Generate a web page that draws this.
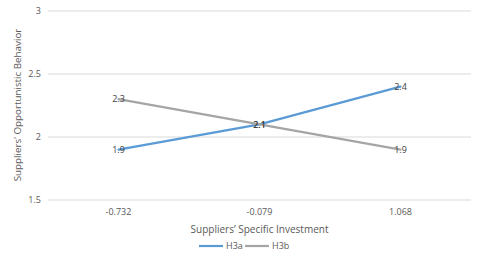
<!DOCTYPE html>
<html>
<head>
<meta charset="utf-8">
<script src="https://cdn.jsdelivr.net/npm/d3@7"></script>
<style>
  body { margin: 0; background: #fff; }
  text { font-family: "Open Sans", "Liberation Sans", sans-serif; }
</style>
</head>
<body>
<div id="chart"></div>
<script>
const categories = ["-0.732", "-0.079", "1.068"];
const h3a = [1.9, 2.1, 2.4];
const h3b = [2.3, 2.1, 1.9];
const yTicks = [1.5, 2, 2.5, 3];

const width = 480;
const height = 262;
const margin = { top: 11, right: 9, bottom: 62, left: 48 };

const series = [
  { name: "H3a", values: h3a, color: "#5b9bd5" },
  { name: "H3b", values: h3b, color: "#a5a5a5" },
];

const svg = d3
  .select("#chart")
  .append("svg")
  .attr("width", width)
  .attr("height", height);

const x = d3
  .scaleBand()
  .domain(categories)
  .range([margin.left, width - margin.right]);

const y = d3
  .scaleLinear()
  .domain([1.5, 3])
  .range([height - margin.bottom, margin.top]);

// gridlines
svg
  .append("g")
  .selectAll("line")
  .data(yTicks)
  .join("line")
  .attr("x1", margin.left)
  .attr("x2", width - margin.right)
  .attr("y1", (d) => y(d))
  .attr("y2", (d) => y(d))
  .attr("stroke", "#d9d9d9")
  .attr("stroke-width", 1);

// y tick labels
svg
  .append("g")
  .selectAll("text")
  .data(yTicks)
  .join("text")
  .attr("x", margin.left - 7)
  .attr("y", (d) => y(d))
  .attr("dy", "0.35em")
  .attr("text-anchor", "end")
  .attr("fill", "#595959")
  .attr("font-size", "9px")
  .text((d) => d);

// x tick labels
svg
  .append("g")
  .selectAll("text")
  .data(categories)
  .join("text")
  .attr("x", (d) => x(d) + x.bandwidth() / 2)
  .attr("y", y(1.5) + 12)
  .attr("dy", "0.35em")
  .attr("text-anchor", "middle")
  .attr("fill", "#595959")
  .attr("font-size", "9px")
  .text((d) => d);

const line = d3
  .line()
  .x((d, i) => x(categories[i]) + x.bandwidth() / 2)
  .y((d) => y(d));

svg
  .append("g")
  .selectAll("path")
  .data(series)
  .join("path")
  .attr("d", (d) => line(d.values))
  .attr("fill", "none")
  .attr("stroke", (d) => d.color)
  .attr("stroke-width", 2.2)
  .attr("stroke-linecap", "round");

// data labels
series.forEach((s) => {
  svg
    .append("g")
    .selectAll("text")
    .data(s.values)
    .join("text")
    .attr("x", (d, i) => x(categories[i]) + x.bandwidth() / 2)
    .attr("y", (d) => y(d))
    .attr("dy", "0.35em")
    .attr("text-anchor", "middle")
    .attr("fill", "#404040")
    .attr("font-size", "9px")
    .text((d) => d);
});

// axis titles
svg
  .append("text")
  .attr("x", (margin.left + width - margin.right) / 2)
  .attr("y", 229)
  .attr("dy", "0.35em")
  .attr("text-anchor", "middle")
  .attr("fill", "#595959")
  .attr("font-size", "10px")
  .text("Suppliers’ Specific Investment");

svg
  .append("text")
  .attr("transform", "translate(18,105) rotate(-90)")
  .attr("dy", "0.35em")
  .attr("text-anchor", "middle")
  .attr("fill", "#595959")
  .attr("font-size", "9.8px")
  .text("Suppliers’  Opportunistic Behavior");

// legend
const legend = svg.append("g").attr("transform", "translate(199,246)");
const item = legend
  .selectAll("g")
  .data(series)
  .join("g")
  .attr("transform", (d, i) => `translate(${i * 46},0)`);
item
  .append("line")
  .attr("x1", 0)
  .attr("x2", 24)
  .attr("stroke", (d) => d.color)
  .attr("stroke-width", 2.2);
item
  .append("text")
  .attr("x", 27)
  .attr("dy", "0.35em")
  .attr("fill", "#595959")
  .attr("font-size", "9px")
  .text((d) => d.name);
</script>
</body>
</html>
